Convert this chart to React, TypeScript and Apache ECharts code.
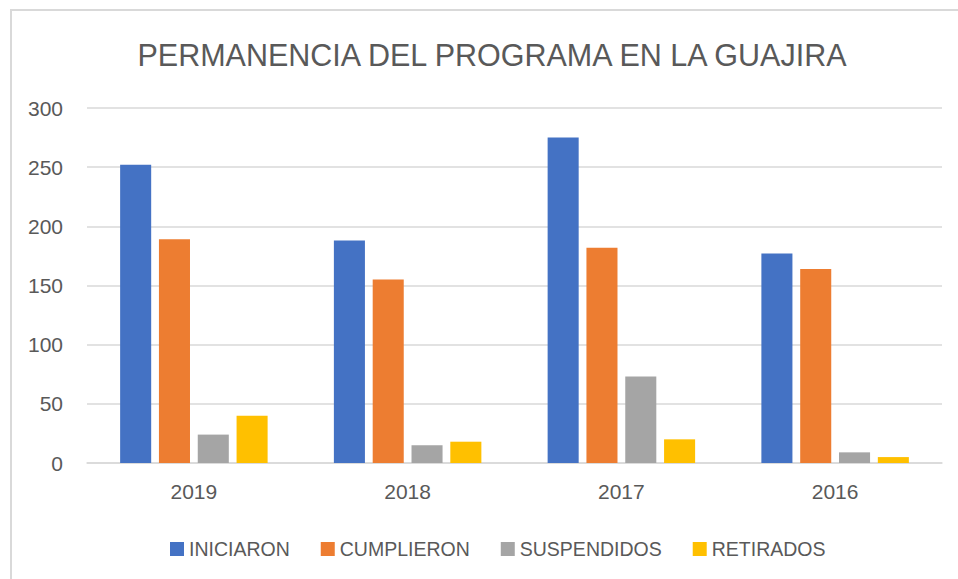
import React, { useEffect, useRef } from "react";
import * as echarts from "echarts";

const categories = ["2019", "2018", "2017", "2016"];
const seriesNames = ["INICIARON", "CUMPLIERON", "SUSPENDIDOS", "RETIRADOS"];
const iniciaron = [252, 188, 275, 177];
const cumplieron = [189, 155, 182, 164];
const suspendidos = [24, 15, 73, 9];
const retirados = [40, 18, 20, 5];
const colors = ["#4472C4", "#ED7D31", "#A5A5A5", "#FFC000"];
const titleText = "PERMANENCIA DEL PROGRAMA EN LA GUAJIRA";

export default function App() {
  const ref = useRef<HTMLDivElement>(null);
  useEffect(() => {
    if (!ref.current) return;
    const chart = echarts.init(ref.current, null, { renderer: "svg" });
    const font = "'Liberation Sans', Arial, sans-serif";
    const values = [iniciaron, cumplieron, suspendidos, retirados];
    chart.setOption({
      animation: false,
      backgroundColor: "#ffffff",
      textStyle: { fontFamily: font },
      title: {
        text: titleText,
        left: 487,
        top: 34,
        textAlign: "center",
        textStyle: { fontFamily: font, fontSize: 30.5, fontWeight: "normal", color: "#595959" },
      },
      graphic: [
        {
          type: "rect",
          shape: { x: 11, y: 10, width: 1000, height: 700 },
          style: { fill: "none", stroke: "#d9d9d9", lineWidth: 2 },
          silent: true,
        },
      ],
      legend: {
        data: seriesNames,
        left: 165,
        top: 534,
        itemWidth: 14,
        itemHeight: 14,
        itemGap: 31,
        icon: "rect",
        textStyle: { fontFamily: font, fontSize: 19.5, color: "#595959" },
      },
      grid: { left: 87, right: 16, top: 108, bottom: 116, containLabel: false },
      xAxis: {
        type: "category",
        data: categories,
        axisLine: { lineStyle: { color: "#d9d9d9", width: 1.5 } },
        axisTick: { show: false },
        axisLabel: { fontFamily: font, fontSize: 21, color: "#595959", margin: 18 },
      },
      yAxis: {
        type: "value",
        min: 0,
        max: 300,
        interval: 50,
        axisLine: { show: false },
        axisTick: { show: false },
        splitLine: { lineStyle: { color: "#d9d9d9", width: 1.5 } },
        axisLabel: { fontFamily: font, fontSize: 21, color: "#595959", margin: 24 },
      },
      series: seriesNames.map((name, i) => ({
        name,
        type: "bar",
        data: values[i],
        itemStyle: { color: colors[i] },
        barGap: "25%",
        barCategoryGap: "31%",
      })),
    });
    return () => chart.dispose();
  }, []);
  return (
    <div
      ref={ref}
      style={{ position: "absolute", left: 0, top: 0, width: 958, height: 579 }}
    />
  );
}
